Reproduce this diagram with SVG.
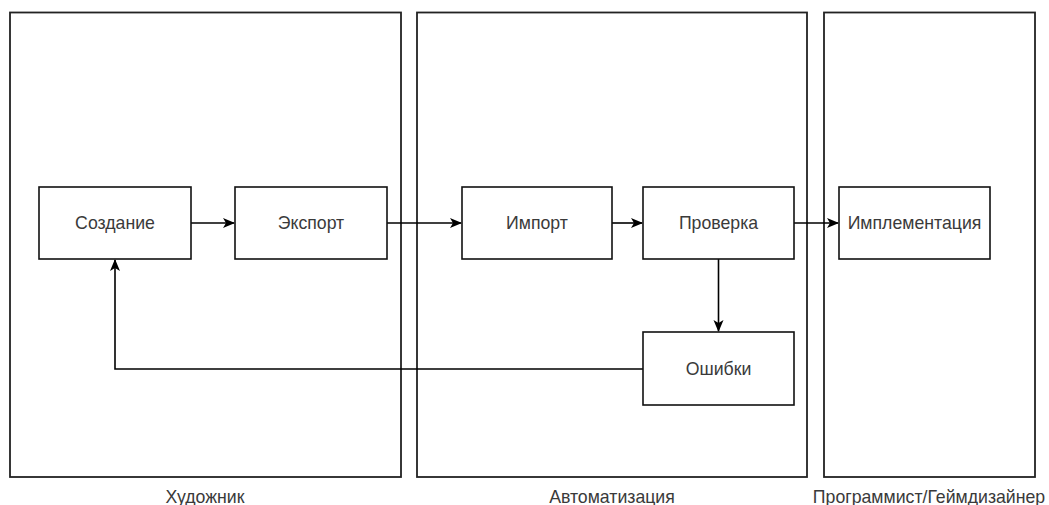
<svg xmlns="http://www.w3.org/2000/svg" width="1049" height="505" viewBox="0 0 1049 505">
<defs>
<marker id="arr" viewBox="0 0 12 12" refX="11" refY="6" markerWidth="12" markerHeight="12" markerUnits="userSpaceOnUse" orient="auto">
<path d="M0,1 L12,6 L0,11 L3,6 Z" fill="#000"/>
</marker>
</defs>
<style>
.lane{fill:#fff;stroke:#222;stroke-width:1.8}
.box{fill:#fff;stroke:#111;stroke-width:1.6}
.t{font-family:"Liberation Sans",Arial,sans-serif;font-size:17.7px;fill:#3a3a3a;text-anchor:middle;dominant-baseline:central}
.c{fill:none;stroke:#000;stroke-width:1.6;marker-end:url(#arr)}
</style>
<g id="lane-artist"><rect class="lane" x="10" y="12.5" width="391" height="464.5"/><text class="t" x="205" y="497">Художник</text></g>
<g id="lane-auto"><rect class="lane" x="417" y="12.5" width="390" height="464.5"/><text class="t" x="612" y="497">Автоматизация</text></g>
<g id="lane-prog"><rect class="lane" x="824" y="12.5" width="211" height="464.5"/><text class="t" x="929" y="497">Программист/Геймдизайнер</text></g>
<g id="connectors">
<path class="c" d="M191,223 L234,223"/>
<path class="c" d="M387,223 L461,223"/>
<path class="c" d="M612,223 L642,223"/>
<path class="c" d="M794,223 L838,223"/>
<path class="c" d="M718.5,259 L718.5,331"/>
<path class="c" d="M643,369 L115,369 L115,260"/>
</g>
<g id="node-sozdanie"><rect class="box" x="39" y="187" width="152" height="72"/><text class="t" x="115" y="223">Создание</text></g>
<g id="node-export"><rect class="box" x="235" y="187" width="152" height="72"/><text class="t" x="311" y="223">Экспорт</text></g>
<g id="node-import"><rect class="box" x="462" y="187" width="150" height="72"/><text class="t" x="537" y="223">Импорт</text></g>
<g id="node-proverka"><rect class="box" x="643" y="187" width="151" height="72"/><text class="t" x="718.5" y="223">Проверка</text></g>
<g id="node-impl"><rect class="box" x="839" y="187" width="151" height="72"/><text class="t" x="914.5" y="223">Имплементация</text></g>
<g id="node-errors"><rect class="box" x="643" y="332" width="151" height="73"/><text class="t" x="718.5" y="369">Ошибки</text></g>
</svg>
